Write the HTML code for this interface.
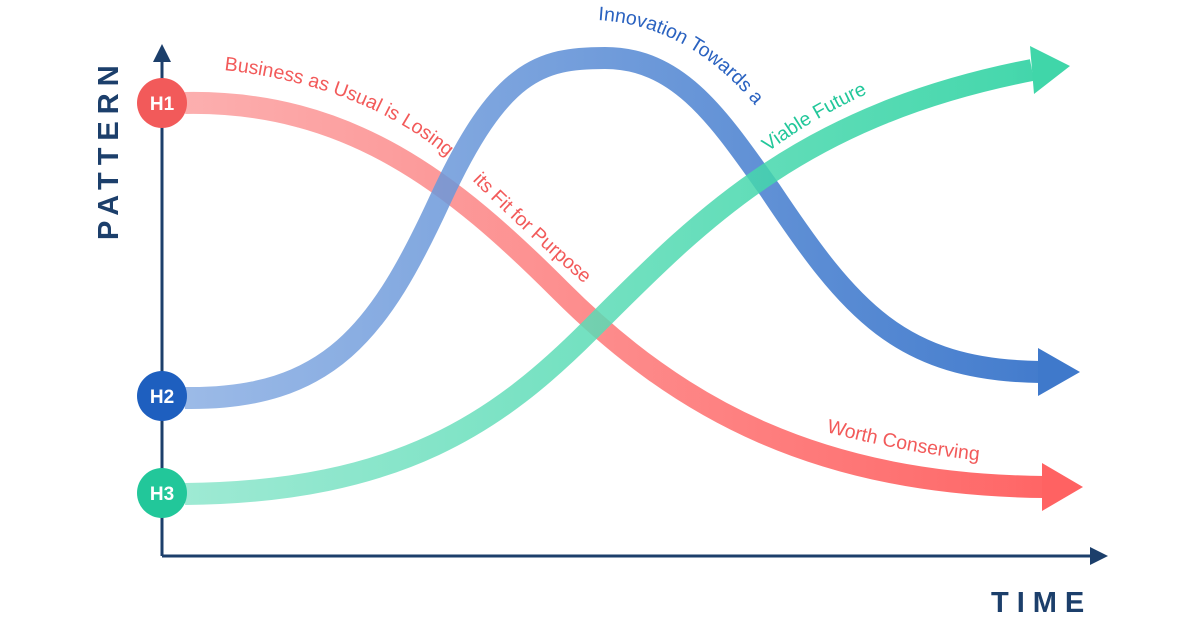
<!DOCTYPE html>
<html><head><meta charset="utf-8"><style>
html,body{margin:0;padding:0;background:#fff;}
svg{display:block;font-family:"Liberation Sans",sans-serif;}
</style></head><body>
<svg width="1200" height="627" viewBox="0 0 1200 627">
<defs>
<linearGradient id="gr" x1="185" y1="0" x2="1080" y2="0" gradientUnits="userSpaceOnUse">
<stop offset="0" stop-color="#fba6a6"/><stop offset="1" stop-color="#ff5252"/></linearGradient>
<linearGradient id="gb" x1="185" y1="0" x2="1080" y2="0" gradientUnits="userSpaceOnUse">
<stop offset="0" stop-color="#8aaee3"/><stop offset="1" stop-color="#1e62c3"/></linearGradient>
<linearGradient id="gg" x1="185" y1="0" x2="1070" y2="0" gradientUnits="userSpaceOnUse">
<stop offset="0" stop-color="#8de6cc"/><stop offset="1" stop-color="#1fcf9b"/></linearGradient>
<path id="tr" d="M224,70 C 330,82 410,118 466,174 C 527,236 567,268 612,308" fill="none"/>
<path id="tb" d="M598,20 C 662,24 720,55 770,125" fill="none"/>
<path id="tg" d="M768,152 C 803,126 838,106 880,88" fill="none"/>
<path id="tw" d="M826,432 C 880,446 930,456 995,462" fill="none"/>
</defs>
<line x1="162" y1="58" x2="162" y2="556" stroke="#1c3f6b" stroke-width="3"/>
<polygon points="162,44 153,62 171,62" fill="#1c3f6b"/>
<line x1="162" y1="556" x2="1094" y2="556" stroke="#1c3f6b" stroke-width="3"/>
<polygon points="1108,556 1090,547 1090,565" fill="#1c3f6b"/>
<g opacity="0.9">
<path d="M185,103 C 350,100 455,185 560,290 C 680,410 820,485 1045,487" fill="none" stroke="url(#gr)" stroke-width="22"/>
<polygon points="1042,463 1083,487 1042,511" fill="#ff5252"/>
</g>
<g opacity="0.85">
<path d="M185,398 C 330,400 380,330 440,200 C 500,70 540,58 605,58 C 680,58 720,120 770,190 C 850,310 900,370 1040,372" fill="none" stroke="url(#gb)" stroke-width="22"/>
<polygon points="1038,348 1080,372 1038,396" fill="#1e62c3"/>
</g>
<g opacity="0.85">
<path d="M185,494 C 400,492 500,420 590,330 C 700,220 800,115 1032,70" fill="none" stroke="url(#gg)" stroke-width="22"/>
<polygon points="1030,46 1070,66 1034,94" fill="#1fcf9b"/>
</g>
<circle cx="162" cy="103" r="25" fill="#f25a5a"/>
<circle cx="162" cy="396" r="25" fill="#1e5fbf"/>
<circle cx="162" cy="493" r="25" fill="#22c79a"/>
<g fill="#fff" font-weight="bold" font-size="19" text-anchor="middle">
<text x="162" y="110">H1</text><text x="162" y="403">H2</text><text x="162" y="500">H3</text>
</g>
<g font-size="19.5">
<text fill="#f25a5a"><textPath href="#tr">Business as Usual is Losing<tspan dx="34">its Fit for Purpose</tspan></textPath></text>
<text fill="#2a62c0"><textPath href="#tb">Innovation Towards a</textPath></text>
<text fill="#22c79a"><textPath href="#tg">Viable Future</textPath></text>
<text fill="#f25a5a"><textPath href="#tw">Worth Conserving</textPath></text>
</g>
<text x="0" y="0" transform="translate(118,240) rotate(-90)" font-size="29" font-weight="bold" fill="#1c3f6b" letter-spacing="7">PATTERN</text>
<text x="991" y="612" font-size="29" font-weight="bold" fill="#1c3f6b" letter-spacing="8">TIME</text>
</svg>
</body></html>
